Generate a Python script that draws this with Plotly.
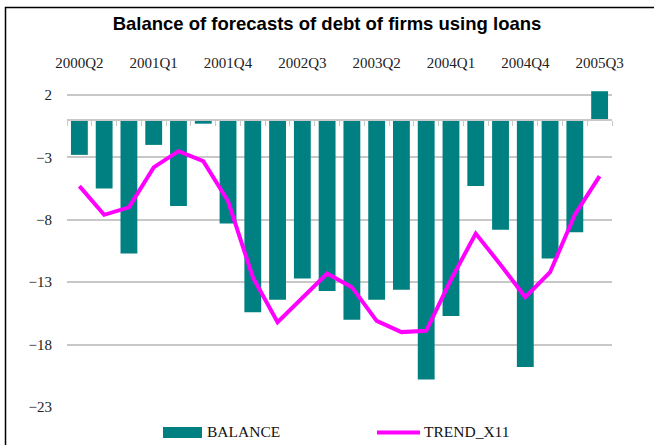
import plotly.graph_objects as go

# quarters 2000Q2 .. 2005Q3
quarters = [
    "2000Q2", "2000Q3", "2000Q4",
    "2001Q1", "2001Q2", "2001Q3", "2001Q4",
    "2002Q1", "2002Q2", "2002Q3", "2002Q4",
    "2003Q1", "2003Q2", "2003Q3", "2003Q4",
    "2004Q1", "2004Q2", "2004Q3", "2004Q4",
    "2005Q1", "2005Q2", "2005Q3",
]
balance = [
    -2.8, -5.5, -10.7, -2.0, -6.9, -0.3, -8.3, -15.4, -14.4, -12.7, -13.7,
    -16.0, -14.4, -13.6, -20.8, -15.7, -5.3, -8.8, -19.8, -11.1, -9.0, 2.3,
]
trend_x11 = [
    -5.3, -7.6, -7.0, -3.8, -2.5, -3.3, -6.5, -12.6, -16.2, -14.3, -12.3,
    -13.4, -16.1, -17.0, -16.9, -12.8, -9.1, -11.6, -14.2, -12.2, -7.6, -4.5,
]
x_ticks = quarters[::3]
y_ticks = [2, -3, -8, -13, -18, -23]
y_range = [-23, 3.2]

TEAL = "#008080"
MAGENTA = "#ff00ff"
GRID = "#c8c8c8"
SERIF = "Liberation Serif, Times New Roman, serif"

# plot area in pixels (for placing the legend / frame in paper coords)
W, H = 654, 445
L, R, T, B = 67, 42, 80, 38
pw, ph = W - L - R, H - T - B


def px_x(x):
    return (x - L) / pw


def px_y(y):
    return (H - B - y) / ph


fig = go.Figure()

fig.add_trace(go.Bar(
    x=quarters, y=balance, name="BALANCE",
    marker=dict(color=TEAL, line=dict(width=0)),
    xaxis="x", yaxis="y",
))
fig.add_trace(go.Scatter(
    x=quarters, y=trend_x11, name="TREND_X11", mode="lines",
    line=dict(color=MAGENTA, width=4),
    xaxis="x2", yaxis="y",
))

# axis at zero sits at this fraction of the y domain
zero_pos = (0 - y_range[0]) / (y_range[1] - y_range[0])

fig.update_layout(
    width=W, height=H,
    margin=dict(l=L, r=R, t=T, b=B),
    paper_bgcolor="white", plot_bgcolor="white",
    showlegend=False,
    bargap=0.32,
    title=dict(
        text="<b>Balance of forecasts of debt of firms using loans</b>",
        font=dict(family="Liberation Sans, Arial, sans-serif", size=18.5, color="black"),
        x=0.5, xanchor="center", xref="container",
        y=1 - 24 / H, yanchor="middle", yref="container",
    ),
    xaxis=dict(
        type="category", categoryorder="array", categoryarray=quarters,
        range=[-0.5, len(quarters) - 0.5],
        side="top", showline=False, showgrid=False, ticks="",
        tickmode="array", tickvals=x_ticks, ticktext=x_ticks,
        tickfont=dict(family=SERIF, size=15, color="#222"),
        ticklabelstandoff=8,
    ),
    xaxis2=dict(
        type="category", categoryorder="array", categoryarray=quarters,
        range=[-0.5, len(quarters) - 0.5],
        overlaying="x", anchor="free", position=zero_pos,
        showline=True, linecolor=GRID, linewidth=1.5,
        ticks="outside", tickson="boundaries", ticklen=5, tickcolor=GRID,
        showticklabels=False, showgrid=False,
    ),
    yaxis=dict(
        range=y_range, tickmode="array", tickvals=y_ticks,
        showgrid=True, gridcolor=GRID, gridwidth=1.5,
        zeroline=False, showline=False, ticks="",
        tickfont=dict(family=SERIF, size=15, color="#222"),
        ticklabelstandoff=14,
    ),
)

# chart frame (cropped at right and bottom in the reference)
fig.add_shape(type="rect", xref="paper", yref="paper",
              x0=px_x(5.5), x1=px_x(720), y0=px_y(500), y1=px_y(7.5),
              line=dict(color="black", width=1.5), fillcolor="rgba(0,0,0,0)")

# legend drawn by hand to match the wide swatches
fig.add_shape(type="rect", xref="paper", yref="paper",
              x0=px_x(163), x1=px_x(202), y0=px_y(438), y1=px_y(427),
              line=dict(width=0), fillcolor=TEAL)
fig.add_shape(type="line", xref="paper", yref="paper",
              x0=px_x(377), x1=px_x(420), y0=px_y(432.5), y1=px_y(432.5),
              line=dict(color=MAGENTA, width=4))
fig.add_annotation(text="BALANCE", xref="paper", yref="paper",
                   x=px_x(205), y=px_y(432), xanchor="left", yanchor="middle",
                   showarrow=False, font=dict(family=SERIF, size=15.5, color="#111"))
fig.add_annotation(text="TREND_X11", xref="paper", yref="paper",
                   x=px_x(422), y=px_y(432), xanchor="left", yanchor="middle",
                   showarrow=False, font=dict(family=SERIF, size=15.5, color="#111"))

fig.write_html(
    "out.html",
    config={"displayModeBar": False},
    post_script="document.body.style.margin='0';document.body.style.overflow='hidden';",
)
